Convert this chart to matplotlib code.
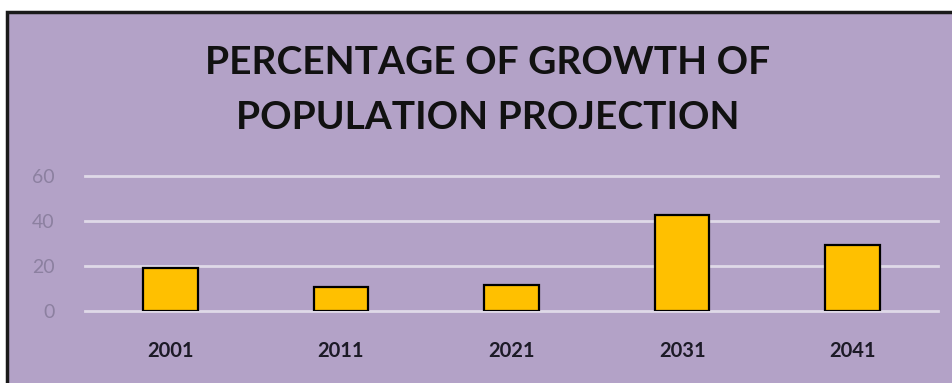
import matplotlib.pyplot as plt
from matplotlib.patches import Rectangle

years = ["2001", "2011", "2021", "2031", "2041"]
growth = [19.0, 10.4, 11.6, 42.4, 29.1]
y_ticks = [0, 20, 40, 60]

bg = "#B3A2C7"
bar_color = "#FFC000"

fig = plt.figure(figsize=(9.53, 3.83), dpi=100, facecolor="white")

# chart area panel with dark border (extends past the right/bottom edges)
panel = Rectangle((6.5 / 953, -0.05), 1.1, 1.05 - 11.5 / 383,
                  transform=fig.transFigure, facecolor=bg, edgecolor="#1a1a1a",
                  linewidth=2.5, zorder=-5)
fig.patches.append(panel)

ax = fig.add_axes([85 / 953, (383 - 310.7) / 383, 853 / 953, 135 / 383])
ax.set_zorder(2)
ax.set_facecolor("none")

x = list(range(len(years)))
ax.bar(x, growth, width=0.32, color=bar_color, edgecolor="black",
       linewidth=1.6, zorder=3)

ax.set_xlim(-0.5, len(years) - 0.5)
ax.set_ylim(0, 60)
ax.set_yticks(y_ticks)
ax.set_yticklabels([str(t) for t in y_ticks], fontsize=14, color="#8c80a0",
                   family="Lato")
ax.set_xticks(x)
ax.set_xticklabels(years, fontsize=14.5, fontweight="bold", color="#1c1a26",
                   family="Lato")
ax.tick_params(axis="both", length=0)
ax.tick_params(axis="y", pad=22)
ax.tick_params(axis="x", pad=22)

for t in y_ticks:
    ax.axhline(t, color="#DFD9E8", linewidth=2, zorder=1, clip_on=False)

for side in ax.spines.values():
    side.set_visible(False)

fig.text(488 / 953, 1 - 62 / 383, "PERCENTAGE OF GROWTH OF",
         ha="center", va="center", fontsize=28, fontweight="bold",
         color="#111111", family="Lato", zorder=3)
fig.text(488 / 953, 1 - 117 / 383, "POPULATION PROJECTION",
         ha="center", va="center", fontsize=28, fontweight="bold",
         color="#111111", family="Lato", zorder=3)

fig.savefig("out.png", dpi=100, facecolor="white")
